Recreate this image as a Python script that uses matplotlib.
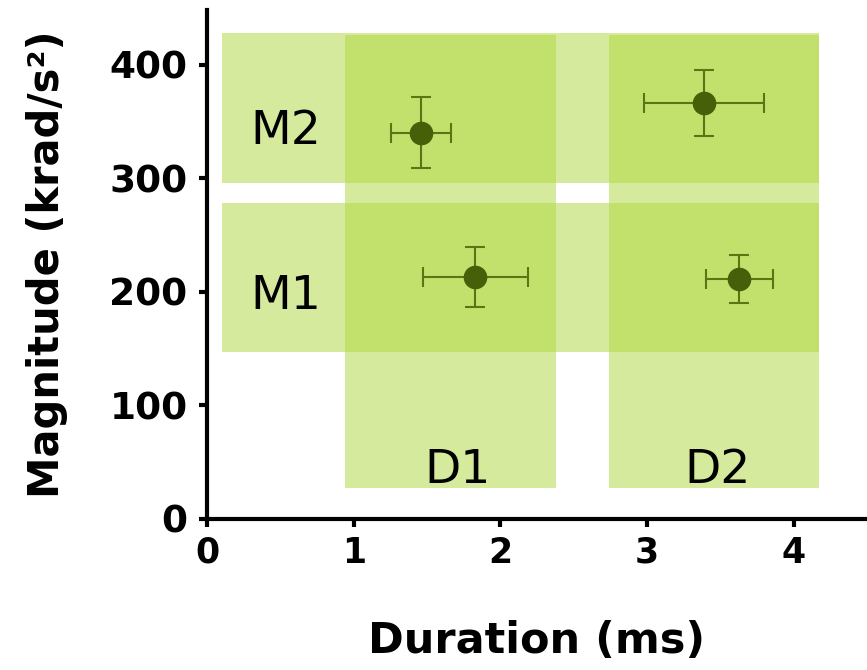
import matplotlib.pyplot as plt
from matplotlib.patches import Rectangle

# shaded ranges (x0, x1, y0, y1)
band_names = ["M2", "M1", "D1", "D2"]
band_x0 = [0.1, 0.1, 0.94, 2.74]
band_x1 = [4.17, 4.17, 2.38, 4.17]
band_y0 = [296, 147, 27, 27]
band_y1 = [428, 278, 426, 426]
label_x = [0.54, 0.54, 1.71, 3.48]
label_y = [341, 196, 43, 43]

# measured points
dur = [1.46, 3.39, 1.83, 3.63]
dur_err = [0.205, 0.41, 0.36, 0.23]
mag = [340, 366, 213, 211]
mag_err = [31, 29, 26, 21]

fig = plt.figure(figsize=(8.67, 6.7), dpi=100)
ax = fig.add_axes([0.2388, 0.2254, 0.7612, 0.7597])

for x0, x1, y0, y1 in zip(band_x0, band_x1, band_y0, band_y1):
    ax.add_patch(Rectangle((x0, y0), x1 - x0, y1 - y0, facecolor=(175/255, 215/255, 60/255),
                           alpha=0.5, edgecolor='none', zorder=1))

for name, tx, ty in zip(band_names, label_x, label_y):
    ax.text(tx, ty, name, fontsize=34, family='DejaVu Sans', ha='center', va='center', zorder=3)

ax.errorbar(dur, mag, xerr=dur_err, yerr=mag_err, fmt='o', color='#46600a', ecolor='#587612',
            markersize=16, elinewidth=1.5, capsize=7, capthick=1.5, zorder=4)

ax.set_xlim(0, 4.5)
ax.set_ylim(0, 448)
ax.set_xticks([0, 1, 2, 3, 4])
ax.set_yticks([0, 100, 200, 300, 400])

for s in ['top', 'right']:
    ax.spines[s].set_visible(False)
for s in ['left', 'bottom']:
    ax.spines[s].set_linewidth(3)

ax.tick_params(direction='out', length=6, width=3, labelsize=25, pad=6)
ax.tick_params(axis='y', labelsize=27, pad=8)
for lab in ax.get_xticklabels() + ax.get_yticklabels():
    lab.set_fontweight('bold')
    lab.set_family('DejaVu Sans')

ax.set_xlabel('Duration (ms)', fontsize=31, fontweight='bold', family='DejaVu Sans', labelpad=36)
ax.set_ylabel('Magnitude (krad/s²)', fontsize=30, fontweight='bold', family='DejaVu Sans', labelpad=30)

fig.savefig('out.png', dpi=100)
